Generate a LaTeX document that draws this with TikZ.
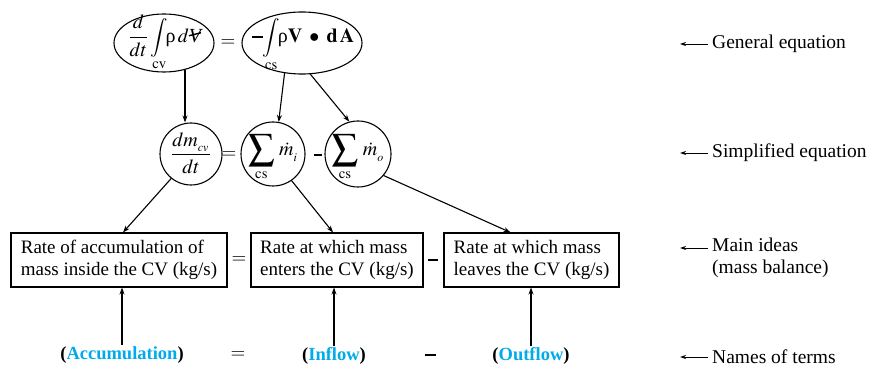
\documentclass[tikz,border=0pt]{standalone}
\usepackage{mathptmx}
\usepackage[no-math]{fontspec}
\setmainfont{Liberation Serif}
\usetikzlibrary{shapes.geometric,arrows.meta}
\definecolor{termblue}{RGB}{0,170,235}
\newcommand{\volV}{\mbox{\itshape V\kern-0.62em\raisebox{0.3em}{\rotatebox{14}{\rule{0.62em}{0.07em}}}\kern0.02em}}
\newcommand{\bminus}{\rule[0.24em]{0.55em}{0.1em}}
\newcommand{\bigint}{\mathop{\vcenter{\hbox{\scalebox{0.97}{$\displaystyle\int$}}}}}
\newcommand{\bigsum}{\mathop{\vcenter{\hbox{\scalebox{1.3}{$\displaystyle\sum$}}}}}
\newcommand{\upsub}[1]{\smash{$\scriptstyle\mathrm{#1}$}}
\begin{document}
\begin{tikzpicture}[x=1pt,y=-1pt,
  arr/.style={-{Stealth[length=7pt,width=5pt]}, line width=1.1pt},
  sarr/.style={-{Stealth[length=6pt,width=4pt]}, line width=0.9pt},
  eqell/.style={draw, ellipse, line width=1.1pt, inner sep=0pt},
  eqcirc/.style={draw, circle, line width=1.1pt, inner sep=0pt, minimum size=64pt},
  eqtxt/.style={inner sep=0pt, font=\fontsize{20}{23}\selectfont},
  idea/.style={draw, line width=1.1pt, align=left, inner sep=0pt, minimum height=54pt, font=\fontsize{19}{22}\selectfont},
  sidelab/.style={anchor=west, align=left, inner sep=4pt, font=\fontsize{19.5}{21.5}\selectfont},
  term/.style={inner sep=1pt, font=\fontsize{18.5}{21}\selectfont\bfseries},
  op/.style={inner sep=0pt, font=\fontsize{19}{22}\selectfont}
]
\useasboundingbox (0,0) rectangle (869,371);

% general equation
\node[eqell, minimum width=100pt, minimum height=58pt] (gen1) at (164,43) {};
\node[eqtxt] (gen1t) at (165,43) {$\displaystyle\frac{d}{dt}\bigint\limits_{\mbox{\upsub{cv}}}\!\!\mbox{ρ}\,d\volV$};
\node[op] (eq1) at (228,43) {$=$};
\node[eqell, minimum width=120pt, minimum height=62pt] (gen2) at (302,43) {};
\node[eqtxt] (gen2t) at (303,45) {$\displaystyle\mbox{\bminus}\!\bigint\limits_{\mbox{\upsub{cs}}}\!\!\mbox{ρ}\mathbf{V}\;\bullet\;\mathbf{d\,A}$};

% simplified equation
\node[eqcirc, minimum size=62pt] (dm) at (191,154) {};
\node[eqtxt] (dmt) at (191,153) {$\displaystyle\frac{dm_{_{cv}}}{dt}$};
\node[op] (eq2) at (229,155) {$=$};
\node[eqcirc] (sumi) at (273,154) {};
\node[eqtxt] (sumit) at (273,158) {$\displaystyle\bigsum\limits_{\mathrm{cs}}\,\dot m_{_i}$};
\node[op] (mi2) at (318,155) {\rule{8pt}{2.2pt}};
\node[eqcirc, minimum size=66pt] (sumo) at (358,154) {};
\node[eqtxt] (sumot) at (358,158) {$\displaystyle\bigsum\limits_{\mathrm{cs}}\,\dot m_{_o}$};

% main ideas
\node[idea, minimum width=216pt] (box1) at (119,260) {Rate of accumulation of\\mass inside the CV (kg/s)};
\node[op] (eq3) at (239,260) {$=$};
\node[idea, minimum width=172pt] (box2) at (337,260) {Rate at which mass\\enters the CV (kg/s)};
\node[op] (mi3) at (433,260) {\rule{10pt}{2.2pt}};
\node[idea, minimum width=175pt] (box3) at (531.5,260) {Rate at which mass\\leaves the CV (kg/s)};

% names of terms
\node[term] (acc) at (122,355) {(\textcolor{termblue}{Accumulation})};
\node[op] (eq4) at (238,355) {$=$};
\node[term] (inf) at (334,356) {(\textcolor{termblue}{Inflow})};
\node[op] (mi4) at (430,355) {\rule{11pt}{2.2pt}};
\node[term] (outf) at (531,356) {(\textcolor{termblue}{Outflow})};

% connectors
\draw[arr] (gen1.-52) -- (gen1.-52 |- dm.north);
\draw[arr] (gen2.-120) -- (sumi.80);
\draw[arr] (gen2.-75) -- (sumo.105);
\draw[arr] (dm.-129) -- ([xshift=4pt]box1.north);
\draw[arr] (sumi.-55) -- ([xshift=-4pt]box2.north);
\draw[arr] (sumo.-40) -- ([xshift=-21pt]box3.north);
\draw[arr] (acc.north) -- (acc.north |- box1.south);
\draw[arr] (inf.north) -- (inf.north |- box2.south);
\draw[arr] (outf.north) -- (outf.north |- box3.south);

% side labels
\node[sidelab] (lg) at (708,44) {General equation};
\node[sidelab] (ls) at (708,153) {Simplified equation};
\node[sidelab] (lm) at (708,258) {Main ideas\\(mass balance)};
\node[sidelab] (ln) at (708,357) {Names of terms};
\coordinate (pg) at (680,44);
\coordinate (ps) at (680,153);
\coordinate (pm) at (680,248);
\coordinate (pn) at (680,357);
\draw[sarr] (lg.west) -- (pg);
\draw[sarr] (ls.west) -- (ps);
\draw[sarr] (lm.west |- pm) -- (pm);
\draw[sarr] (ln.west) -- (pn);
\end{tikzpicture}
\end{document}
